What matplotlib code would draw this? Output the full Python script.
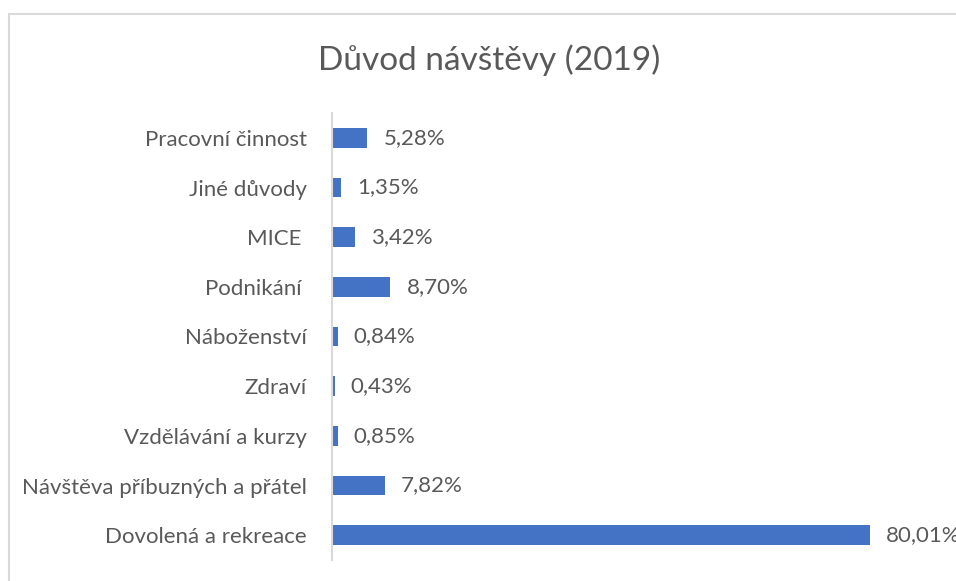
import matplotlib.pyplot as plt
from matplotlib.patches import Rectangle

# categories bottom to top, as drawn
categories = ["Dovolená a rekreace", "Návštěva příbuzných a přátel",
              "Vzdělávání a kurzy", "Zdraví", "Náboženství", "Podnikání ",
              "MICE ", "Jiné důvody", "Pracovní činnost"]
shares = [80.01, 7.82, 0.85, 0.43, 0.84, 8.70, 3.42, 1.35, 5.28]

title = "Důvod návštěvy (2019)"
bar_color = "#4472C4"
text_color = "#595959"

plt.rcParams['font.family'] = ['Lato', 'DejaVu Sans']

fig = plt.figure(figsize=(9.56, 5.81), dpi=100)

# light chart frame (cut at right and bottom edges)
fig.patches.append(Rectangle((9 / 956, -0.1), 1.2, (581 - 14) / 581 + 0.1,
                             transform=fig.transFigure, fill=False,
                             edgecolor="#d9d9d9", linewidth=1.5))

ax = fig.add_axes([332 / 956, (581 - 560) / 581, 605 / 956, 447 / 581])
y = range(len(categories))
ax.barh(y, shares, height=0.4, color=bar_color)
ax.set_xlim(0, 90)
ax.set_ylim(-0.5, len(categories) - 0.5)

for i, v in enumerate(shares):
    ax.annotate("{:.2f}%".format(v).replace(".", ","), (v, i),
                xytext=(11.5, 0), textcoords="offset points",
                va="center", ha="left", fontsize=16, color=text_color,
                annotation_clip=False)

ax.set_yticks(list(y))
ax.set_yticklabels(categories, fontsize=16, color=text_color)
ax.tick_params(axis="y", length=0, pad=18)
ax.set_xticks([])
for side in ["top", "right", "bottom"]:
    ax.spines[side].set_visible(False)
ax.spines["left"].set_color("#d9d9d9")
ax.spines["left"].set_linewidth(1.5)

fig.text(489 / 956, 1 - 60 / 581, title, ha="center", va="center",
         fontsize=24, color=text_color)

fig.savefig("out.png", dpi=100)
